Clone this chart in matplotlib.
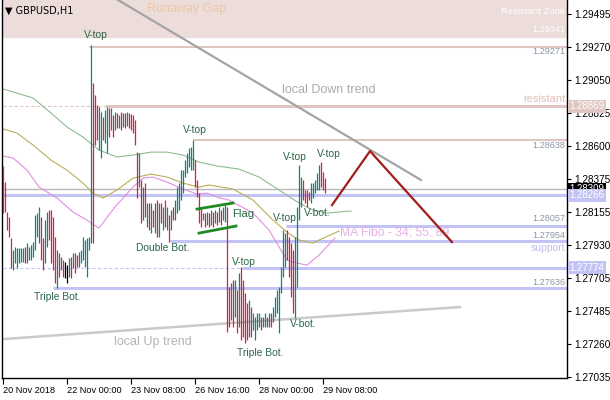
import matplotlib
matplotlib.use("Agg")
from matplotlib import pyplot as plt
import matplotlib.transforms as mtransforms

plt.rcParams['font.family'] = ['Liberation Sans', 'DejaVu Sans']

# H1 bars, index 0 = 20 Nov 2018 16:00
highs = [1.28465, 1.28356, 1.28153, 1.28119, 1.27976, 1.27895, 1.27915, 1.27909, 1.27909, 1.27909,
         1.27909, 1.27915, 1.27942, 1.27915, 1.27929, 1.27949, 1.28132, 1.28146, 1.28187, 1.28119,
         1.27976, 1.28098, 1.28153, 1.28166, 1.28166, 1.28119, 1.27983, 1.27895, 1.27875, 1.27848,
         1.27827, 1.27814, 1.27793, 1.27841, 1.27848, 1.27875, 1.27875, 1.27861, 1.27881, 1.27895,
         1.27983, 1.27963, 1.27976, 1.27983, 1.29285, 1.29027, 1.28946, 1.28878, 1.28865, 1.28831,
         1.28797, 1.28844, 1.28865, 1.28858, 1.28858, 1.28810, 1.28831, 1.28824, 1.28810, 1.28831,
         1.28824, 1.28824, 1.28831, 1.28824, 1.28817, 1.28810, 1.28776, 1.28559, 1.28553, 1.28370,
         1.28322, 1.28349, 1.28214, 1.28214, 1.28214, 1.28166, 1.28214, 1.28234, 1.28214, 1.28214,
         1.28187, 1.28234, 1.28187, 1.28132, 1.28166, 1.28187, 1.28234, 1.28322, 1.28349, 1.28437,
         1.28437, 1.28505, 1.28553, 1.28587, 1.28593, 1.28641, 1.28505, 1.28370, 1.28281, 1.28187,
         1.28146, 1.28146, 1.28153, 1.28146, 1.28166, 1.28153, 1.28166, 1.28153, 1.28187, 1.28166,
         1.28187, 1.28200, 1.28187, 1.27644, 1.27671, 1.27692, 1.27692, 1.27624, 1.27739, 1.27780,
         1.27692, 1.27603, 1.27536, 1.27556, 1.27509, 1.27468, 1.27441, 1.27468, 1.27468, 1.27441,
         1.27441, 1.27468, 1.27441, 1.27468, 1.27468, 1.27509, 1.27576, 1.27624, 1.27644, 1.27780,
         1.28031, 1.28010, 1.28031, 1.27983, 1.27942, 1.27895, 1.27983, 1.28187, 1.28471, 1.28390,
         1.28370, 1.28302, 1.28302, 1.28288, 1.28349, 1.28349, 1.28370, 1.28417, 1.28471, 1.28492,
         1.28424, 1.28383]
lows = [1.28146, 1.28153, 1.28031, 1.27983, 1.27773, 1.27759, 1.27807, 1.27773, 1.27807, 1.27814,
        1.27814, 1.27807, 1.27807, 1.27827, 1.27827, 1.27848, 1.27895, 1.27983, 1.27942, 1.27827,
        1.27759, 1.27807, 1.27915, 1.27963, 1.27807, 1.27759, 1.27671, 1.27637, 1.27712, 1.27759,
        1.27712, 1.27705, 1.27671, 1.27712, 1.27705, 1.27773, 1.27739, 1.27780, 1.27780, 1.27807,
        1.27827, 1.27780, 1.27712, 1.27895, 1.27942, 1.27942, 1.28607, 1.28641, 1.28573, 1.28519,
        1.28641, 1.28620, 1.28553, 1.28661, 1.28709, 1.28661, 1.28709, 1.28722, 1.28722, 1.28709,
        1.28729, 1.28722, 1.28736, 1.28722, 1.28709, 1.28688, 1.28607, 1.28248, 1.28322, 1.28078,
        1.28098, 1.28119, 1.28051, 1.28031, 1.28010, 1.28051, 1.28010, 1.27983, 1.27983, 1.28078,
        1.28031, 1.28051, 1.28031, 1.27949, 1.28031, 1.28098, 1.28098, 1.28146, 1.28166, 1.28234,
        1.28281, 1.28390, 1.28417, 1.28458, 1.28437, 1.28437, 1.28322, 1.28254, 1.28078, 1.28051,
        1.28098, 1.28051, 1.28064, 1.28051, 1.28064, 1.28051, 1.28078, 1.28064, 1.28085, 1.28064,
        1.28098, 1.28085, 1.27339, 1.27373, 1.27420, 1.27373, 1.27441, 1.27332, 1.27373, 1.27285,
        1.27305, 1.27264, 1.27285, 1.27305, 1.27305, 1.27353, 1.27285, 1.27353, 1.27373, 1.27353,
        1.27373, 1.27373, 1.27373, 1.27373, 1.27373, 1.27407, 1.27441, 1.27468, 1.27332, 1.27603,
        1.27712, 1.27780, 1.27827, 1.27712, 1.27576, 1.27468, 1.27434, 1.27644, 1.28098, 1.28187,
        1.28234, 1.28214, 1.28187, 1.28234, 1.28214, 1.28248, 1.28281, 1.28302, 1.28302, 1.28322,
        1.28302, 1.28281]
# u = up bar, d = down bar, n = unchanged
direction = ("ddddd" "uuuuuu" "d" "uuuuuuu" "dd" "uu" "dddd" "u" "d" "u" "d" "nn" "u" "d" "u" "dd"
             "uuuuuuu" "ddd" "uu" "d" "uu" "d" "u" "d" "udududu" "ddddd" "udududududududud" "u" "d"
             "uuuuuuuuuu" "dddd" "udududud" "u" "d" "uu" "dd" "udud" "u" "dddd" "u" "d" "uuuu" "d"
             "uu" "d" "u" "d" "uuuuuuu" "dddd" "uuuu" "dddd" "uuuuu" "ddd")

# moving averages (34, 55, 89) sampled along the chart
ma89_x = [0, 15, 24, 32, 40, 48, 57, 65, 74, 82, 90, 98, 107, 118, 128, 138, 148, 155, 162, 174]
ma89_y = [1.28987, 1.28926, 1.28824, 1.28729, 1.28661, 1.28573, 1.28526, 1.28539, 1.28559, 1.28559,
          1.28539, 1.28492, 1.28465, 1.28444, 1.28390, 1.28302, 1.28214, 1.28166, 1.28146, 1.28160]
ma55_x = [0, 7, 15, 24, 32, 40, 45, 50, 57, 65, 74, 82, 90, 98, 103, 115, 125, 135, 142, 148, 155, 158, 168]
ma55_y = [1.28716, 1.28688, 1.28607, 1.28505, 1.28437, 1.28349, 1.28281, 1.28248, 1.28302, 1.28383,
          1.28410, 1.28390, 1.28349, 1.28322, 1.28336, 1.28309, 1.28234, 1.28098, 1.28017, 1.27963,
          1.27942, 1.27963, 1.28024]
ma34_x = [0, 5, 12, 18, 27, 35, 42, 48, 56, 65, 70, 75, 82, 90, 97, 102, 107, 113, 125, 133, 142, 147,
          152, 158, 166]
ma34_y = [1.28533, 1.28519, 1.28437, 1.28322, 1.28248, 1.28153, 1.28098, 1.28044, 1.28187, 1.28322,
          1.28383, 1.28390, 1.28356, 1.28309, 1.28275, 1.28281, 1.28254, 1.28234, 1.28146, 1.28031,
          1.27827, 1.27807, 1.27793, 1.27861, 1.27976]

tick_pos = [0, 32, 64, 96, 128, 160]
tick_labels = ["20 Nov 2018", "22 Nov 00:00", "23 Nov 08:00", "26 Nov 16:00", "28 Nov 00:00", "29 Nov 08:00"]
price_ticks = [1.29495, 1.29270, 1.29050, 1.28825, 1.28600, 1.28375, 1.28155, 1.27930, 1.27705,
               1.27485, 1.27260, 1.27035]

zone_low = 1.29341
bid = 1.28309
rose = '#dfc6c1'
lav = '#c3c3f5'
txt = '#2b6648'
XMAX = 282

fig = plt.figure(figsize=(6.1, 4.0), dpi=100)
ax = fig.add_axes([2/610, 22/400, 565/610, 378/400])
ax.set_xlim(-0.5, XMAX)
ax.set_ylim(1.27028, 1.29590)

# resistant zone band
ax.axhspan(zone_low, 1.2959, color='#ecdcda', zorder=0)
ax.text(72, 1.29529, "Runaway Gap", color='#ecc8a6', fontsize=9, va='center', ha='left')
ax.text(281, 1.29515, "Resistant Zone", color='white', fontsize=6.8, va='center', ha='right')
ax.text(281, 1.29393, "1.29341", color='white', fontsize=6.6, va='center', ha='right')

# horizontal levels
ax.hlines(1.29271, 43, XMAX, color=rose, lw=1.5, zorder=1)
ax.hlines(1.28869, 51, XMAX, color=rose, lw=2.2, zorder=1)
ax.hlines(1.28869, 0, 51, color=rose, lw=0.8, linestyles=(0, (3, 2)), zorder=1)
ax.hlines(1.28638, 95, XMAX, color=rose, lw=1.5, zorder=1)
ax.hlines(bid, -0.5, XMAX, color='#b8b8b8', lw=1.0, zorder=1)
ax.hlines(1.28266, -0.5, XMAX, color=lav, lw=2.2, zorder=1)
ax.hlines(1.28057, 141.5, XMAX, color=lav, lw=2.2, zorder=1)
ax.hlines(1.27954, 83.5, XMAX, color=lav, lw=2.2, zorder=1)
ax.hlines(1.27774, 119.5, XMAX, color=lav, lw=2.2, zorder=1)
ax.hlines(1.27774, 0, 119.5, color=lav, lw=0.8, linestyles=(0, (3, 2)), zorder=1)
ax.hlines(1.27636, 25, XMAX, color=lav, lw=2.2, zorder=1)

for p, s in [(1.29244, "1.29271"), (1.28607, "1.28638"), (1.28112, "1.28057"),
             (1.27997, "1.27954"), (1.27672, "1.27636")]:
    ax.text(281, p, s, color='#8c96a8', fontsize=6.6, va='center', ha='right')
ax.text(281, 1.28919, "resistant", color='#e2bdb6', fontsize=8, va='center', ha='right')
ax.text(281, 1.27909, "support", color='#bcbcf0', fontsize=7.5, va='center', ha='right')

# moving averages
ax.plot(ma89_x, ma89_y, color='#8fbc8f', lw=0.8, zorder=2)
ax.plot(ma55_x, ma55_y, color='#bcae58', lw=0.8, zorder=2)
ax.plot(ma34_x, ma34_y, color='#e28fe2', lw=0.8, zorder=2)
ax.text(168.5, 1.28011, "MA Fibo - 34; 55; 89", color='#e6b0e6', fontsize=8.7, va='center', ha='left')

# bars
colors = {'u': '#178080', 'd': '#dc1e46', 'n': 'black'}
idx = list(range(len(highs)))
ax.vlines(idx, lows, highs, colors=[colors[c] for c in direction], lw=0.9, zorder=3)

# trend lines
ax.plot([57.5, 209], [1.2959, 1.28370], color='#a4a4a4', lw=1.6, zorder=4)
ax.text(163, 1.28980, "local Down trend", color='#ababab', fontsize=9, ha='center', va='center')
ax.plot([0, 228.5], [1.27292, 1.27509], color='#cacaca', lw=1.8, zorder=2)
ax.text(75, 1.27272, "local Up trend", color='#b4b4b4', fontsize=9, ha='center', va='center')
ax.plot([164.5, 183.5, 224.5], [1.28200, 1.28566, 1.27949], color='#a31c1c', lw=1.6, zorder=4)
ax.plot([97, 115], [1.28173, 1.28214], color='#1f8a1f', lw=2.0, zorder=4)
ax.plot([98, 116.5], [1.28010, 1.28058], color='#1f8a1f', lw=2.0, zorder=4)

# pattern labels
labels = [(46.5, 1.29353, "V-top"), (96, 1.28709, "V-top"), (146, 1.28526, "V-top"),
          (163, 1.28546, "V-top"), (141, 1.28112, "V-top"), (120.5, 1.27814, "V-top"),
          (157, 1.28146, "V-bot."), (150, 1.27394, "V-bot."), (80, 1.27909, "Double Bot."),
          (27, 1.27577, "Triple Bot."), (128.5, 1.27198, "Triple Bot.")]
for x, y, s in labels:
    ax.text(x, y, s, color=txt, fontsize=7.4, ha='center', va='center', zorder=5)
ax.text(120, 1.28140, "Flag", color=txt, fontsize=8.2, ha='center', va='center', zorder=5)

ax.text(0.006, 0.971, "\u25bc GBPUSD,H1", transform=ax.transAxes, fontsize=7, color='black',
        family=['DejaVu Sans'], va='center', ha='left')

# axes styling
ax.spines['top'].set_visible(False)
for side in ['left', 'right', 'bottom']:
    ax.spines[side].set_linewidth(1.0)
    ax.spines[side].set_color('black')
ax.yaxis.tick_right()
ax.set_yticks(price_ticks)
ax.set_yticklabels(["%.5f" % v for v in price_ticks])
ax.tick_params(axis='y', labelsize=7.2, pad=2, length=3, width=0.8, direction='out')
ax.set_xticks(tick_pos)
ax.set_xticklabels(tick_labels, ha='left')
ax.tick_params(axis='x', labelsize=6.6, pad=2, length=4, width=0.8, direction='out')

# price boxes on the right scale
trans = mtransforms.blended_transform_factory(ax.transAxes, ax.transData)
for p, fc in [(1.28869, '#e0c6c1'), (bid, 'black'), (1.28266, '#c3c3f5'), (1.27774, '#c3c3f5')]:
    ax.text(1.004, p, "%.5f" % p, transform=trans, fontsize=7, color='white', ha='left', va='center',
            bbox=dict(boxstyle='square,pad=0.15', fc=fc, ec='none'), clip_on=False, zorder=10)

fig.savefig("out.png", dpi=100)
